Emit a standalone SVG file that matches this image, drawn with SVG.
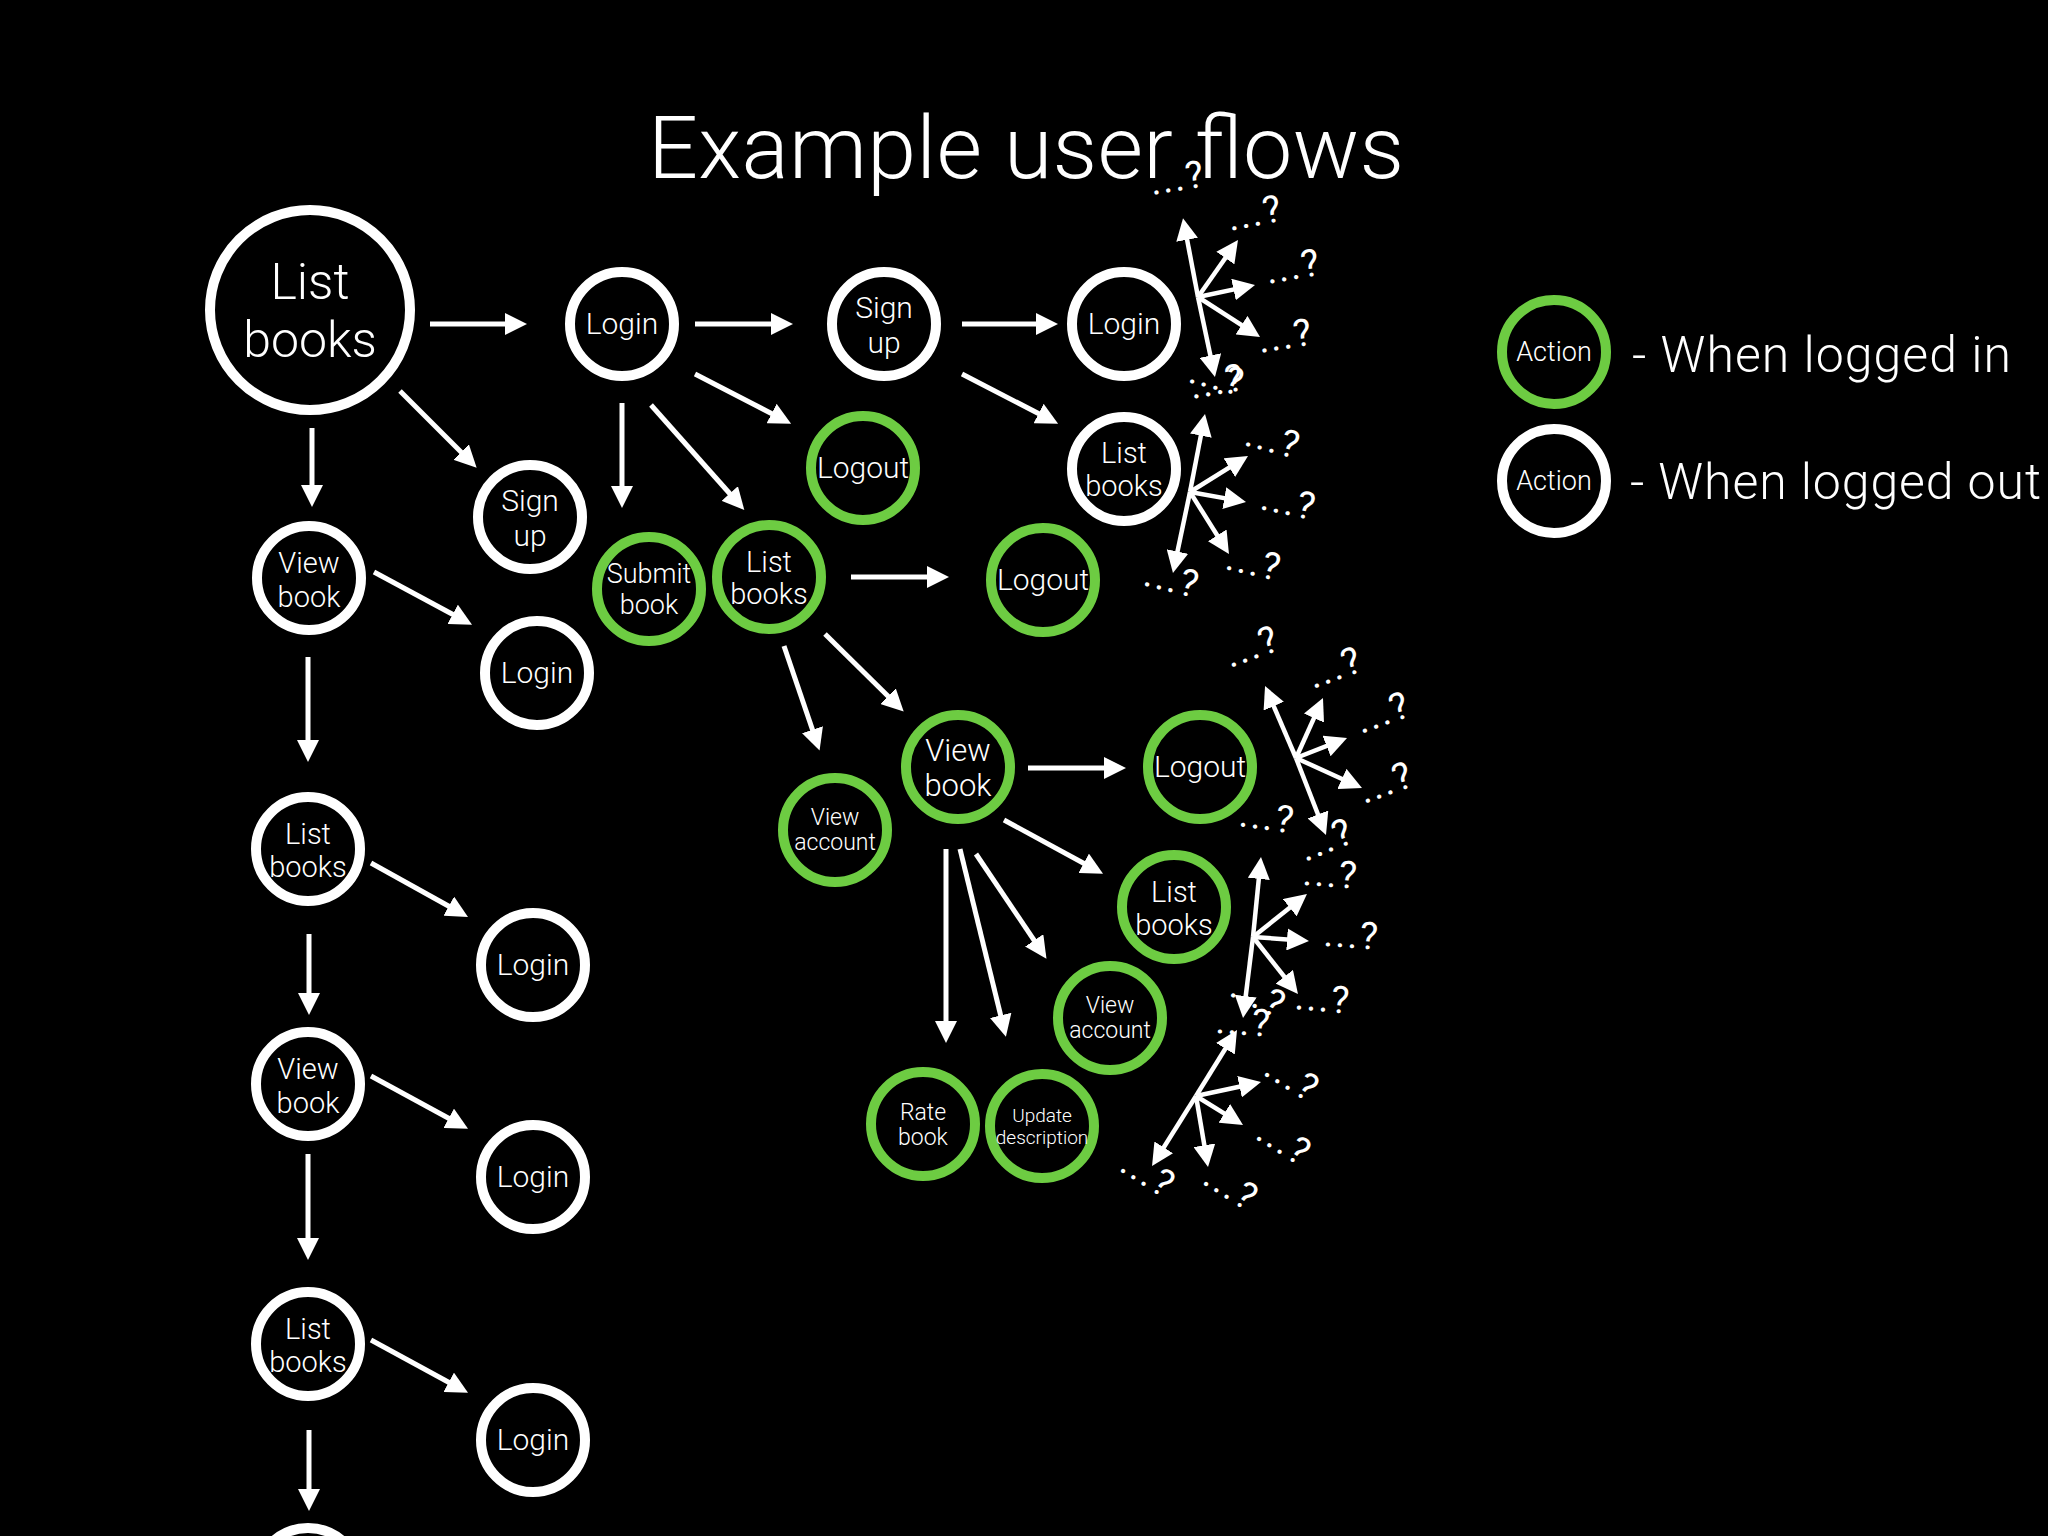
<svg xmlns="http://www.w3.org/2000/svg" width="2048" height="1536" viewBox="0 0 2048 1536">
<style>
text { font-family: Roboto, "Liberation Sans", Arial, sans-serif; font-weight: 300; fill: #fff; }
.node circle { fill: #000; stroke-width: 10; }
.w circle { stroke: #fff; }
.g circle { stroke: #6DCC42; }
.node text { text-anchor: middle; }
.f30 { font-size: 30px; }
.f29 { font-size: 29px; }
.f31 { font-size: 31px; }
.f27 { font-size: 27px; }
.f23 { font-size: 23px; }
.f19 { font-size: 19px; }
.conn line { stroke: #fff; stroke-width: 5; marker-end: url(#ah); }
.conn .c line { stroke-width: 4.5; }
.q text { font-size: 38px; letter-spacing: 2px; font-weight: 400; }
</style>
<defs>
<marker id="ah" markerUnits="userSpaceOnUse" markerWidth="22" markerHeight="22" refX="14" refY="11" orient="auto">
<path d="M0,0 L22,11 L0,22 Z" fill="#fff"/>
</marker>
</defs>
<rect x="0" y="0" width="2048" height="1536" fill="#000"/>
<text x="1026" y="178" font-size="88" text-anchor="middle" textLength="756">Example user flows</text>

<g id="connectors" class="conn">
<line x1="430" y1="324" x2="519" y2="324"/>
<line x1="695" y1="324" x2="785" y2="324"/>
<line x1="962" y1="324" x2="1050" y2="324"/>
<line x1="695" y1="374" x2="784" y2="420"/>
<line x1="962" y1="374" x2="1051" y2="420"/>
<line x1="400" y1="391" x2="471" y2="462"/>
<line x1="312" y1="428" x2="312" y2="499"/>
<line x1="622" y1="403" x2="622" y2="500"/>
<line x1="651" y1="405" x2="739" y2="504"/>
<line x1="374" y1="572" x2="465" y2="621"/>
<line x1="308" y1="657" x2="308" y2="754"/>
<line x1="851" y1="577" x2="941" y2="577"/>
<line x1="784" y1="646" x2="817" y2="743"/>
<line x1="825" y1="634" x2="898" y2="706"/>
<line x1="1028" y1="768" x2="1118" y2="768"/>
<line x1="1004" y1="820" x2="1096" y2="870"/>
<line x1="946" y1="849" x2="946" y2="1035"/>
<line x1="960" y1="849" x2="1004" y2="1029"/>
<line x1="976" y1="854" x2="1042" y2="952"/>
<line x1="371" y1="863" x2="461" y2="913"/>
<line x1="309" y1="934" x2="309" y2="1007"/>
<line x1="371" y1="1076" x2="461" y2="1125"/>
<line x1="308" y1="1154" x2="308" y2="1252"/>
<line x1="371" y1="1340" x2="461" y2="1389"/>
<line x1="309" y1="1430" x2="309" y2="1503"/>
<g class="c">
<line x1="1198" y1="297" x2="1184.5" y2="226"/>
<line x1="1198" y1="297" x2="1213.3" y2="369.2"/>
<line x1="1198" y1="297" x2="1233.4" y2="246.6"/>
<line x1="1198" y1="297" x2="1247.2" y2="286.6"/>
<line x1="1198" y1="297" x2="1253.3" y2="332.7"/>
<line x1="1190" y1="492" x2="1203.5" y2="421.9"/>
<line x1="1190" y1="492" x2="1174.6" y2="565.2"/>
<line x1="1190" y1="492" x2="1241.2" y2="460.2"/>
<line x1="1190" y1="492" x2="1238.1" y2="500.6"/>
<line x1="1190" y1="492" x2="1224.7" y2="547.2"/>
<line x1="1296" y1="758" x2="1268.2" y2="693.3"/>
<line x1="1296" y1="758" x2="1319.7" y2="705.3"/>
<line x1="1296" y1="758" x2="1339.6" y2="740.9"/>
<line x1="1296" y1="758" x2="1354.7" y2="784.7"/>
<line x1="1296" y1="758" x2="1323.1" y2="827.5"/>
<line x1="1253" y1="937" x2="1260.2" y2="865"/>
<line x1="1253" y1="937" x2="1244" y2="1010"/>
<line x1="1253" y1="937" x2="1300.7" y2="899"/>
<line x1="1253" y1="937" x2="1301" y2="940.4"/>
<line x1="1253" y1="937" x2="1293" y2="987.7"/>
<line x1="1196" y1="1096" x2="1232.8" y2="1036.8"/>
<line x1="1196" y1="1096" x2="1253.2" y2="1083.7"/>
<line x1="1196" y1="1096" x2="1236.2" y2="1120.8"/>
<line x1="1196" y1="1096" x2="1206.7" y2="1159.1"/>
<line x1="1196" y1="1096" x2="1156.3" y2="1159.2"/>
</g>
</g>

<g id="question-labels" class="q">
<text x="1152" y="195" transform="rotate(-9 1152 195)">...?</text>
<text x="1230" y="231" transform="rotate(-11 1230 231)">...?</text>
<text x="1268" y="284" transform="rotate(-10 1268 284)">...?</text>
<text x="1260" y="353" transform="rotate(-9 1260 353)">...?</text>
<text x="1187" y="382" transform="rotate(15 1187 382)">...?</text>
<text x="1192" y="399" transform="rotate(-10 1192 399)">...?</text>
<text x="1243" y="445" transform="rotate(15 1243 445)">...?</text>
<text x="1259" y="509" transform="rotate(12 1259 509)">...?</text>
<text x="1224" y="569" transform="rotate(13 1224 569)">...?</text>
<text x="1142" y="585" transform="rotate(14 1142 585)">...?</text>
<text x="1230" y="668" transform="rotate(-20 1230 668)">...?</text>
<text x="1313" y="689" transform="rotate(-20 1313 689)">...?</text>
<text x="1361" y="734" transform="rotate(-20 1361 734)">...?</text>
<text x="1364" y="804" transform="rotate(-20 1364 804)">...?</text>
<text x="1238" y="826" transform="rotate(8 1238 826)">...?</text>
<text x="1305" y="862" transform="rotate(-22 1305 862)">...?</text>
<text x="1302" y="885" transform="rotate(4 1302 885)">...?</text>
<text x="1323" y="946" transform="rotate(4 1323 946)">...?</text>
<text x="1294" y="1009" transform="rotate(5 1294 1009)">...?</text>
<text x="1228" y="995" transform="rotate(26 1228 995)">...?</text>
<text x="1215" y="1033" transform="rotate(4 1215 1033)">...?</text>
<text x="1262" y="1074" transform="rotate(32 1262 1074)">...?</text>
<text x="1254" y="1138" transform="rotate(32 1254 1138)">...?</text>
<text x="1118" y="1170" transform="rotate(32 1118 1170)">...?</text>
<text x="1201" y="1183" transform="rotate(32 1201 1183)">...?</text>
</g>

<g id="n-listbooks-main" class="node w">
<circle cx="310" cy="310" r="100" stroke-width="12"/>
<text x="310" y="299" font-size="50">List</text>
<text x="310" y="357" font-size="50">books</text>
</g>
<g id="n-login-1" class="node w"><circle cx="622" cy="324" r="52"/><text class="f30" x="622" y="334">Login</text></g>
<g id="n-signup-1" class="node w"><circle cx="884" cy="324" r="52"/><text class="f30" x="884" y="318">Sign</text><text class="f30" x="884" y="353">up</text></g>
<g id="n-login-2" class="node w"><circle cx="1124" cy="324" r="52"/><text class="f30" x="1124" y="334">Login</text></g>
<g id="n-logout-1" class="node g"><circle cx="863" cy="468" r="52"/><text class="f30" x="863" y="478">Logout</text></g>
<g id="n-listbooks-2" class="node w"><circle cx="1124" cy="469" r="52"/><text class="f29" x="1124" y="463">List</text><text class="f29" x="1124" y="496">books</text></g>
<g id="n-signup-2" class="node w"><circle cx="530" cy="517" r="52"/><text class="f30" x="530" y="511">Sign</text><text class="f30" x="530" y="546">up</text></g>
<g id="n-viewbook-1" class="node w"><circle cx="309" cy="578" r="52"/><text class="f29" x="309" y="573">View</text><text class="f29" x="309" y="607">book</text></g>
<g id="n-login-3" class="node w"><circle cx="537" cy="673" r="52"/><text class="f30" x="537" y="683">Login</text></g>
<g id="n-submitbook" class="node g"><circle cx="649" cy="589" r="52"/><text class="f27" x="649" y="583">Submit</text><text class="f27" x="649" y="614">book</text></g>
<g id="n-listbooks-3" class="node g"><circle cx="769" cy="577" r="52"/><text class="f29" x="769" y="572">List</text><text class="f29" x="769" y="604">books</text></g>
<g id="n-logout-2" class="node g"><circle cx="1043" cy="580" r="52"/><text class="f30" x="1043" y="590">Logout</text></g>
<g id="n-viewbook-2" class="node g"><circle cx="958" cy="767" r="52"/><text class="f31" x="958" y="761">View</text><text class="f31" x="958" y="796">book</text></g>
<g id="n-logout-3" class="node g"><circle cx="1200" cy="767" r="52"/><text class="f30" x="1200" y="777">Logout</text></g>
<g id="n-viewaccount-1" class="node g"><circle cx="835" cy="830" r="52"/><text class="f23" x="835" y="825">View</text><text class="f23" x="835" y="850">account</text></g>
<g id="n-listbooks-4" class="node g"><circle cx="1174" cy="907" r="52"/><text class="f29" x="1174" y="902">List</text><text class="f29" x="1174" y="935">books</text></g>
<g id="n-viewaccount-2" class="node g"><circle cx="1110" cy="1018" r="52"/><text class="f23" x="1110" y="1013">View</text><text class="f23" x="1110" y="1038">account</text></g>
<g id="n-ratebook" class="node g"><circle cx="923" cy="1124" r="52"/><text class="f23" x="923" y="1120">Rate</text><text class="f23" x="923" y="1145">book</text></g>
<g id="n-updatedesc" class="node g"><circle cx="1042" cy="1126" r="52"/><text class="f19" x="1042" y="1122">Update</text><text class="f19" x="1042" y="1144">description</text></g>
<g id="n-listbooks-5" class="node w"><circle cx="308" cy="849" r="52"/><text class="f29" x="308" y="844">List</text><text class="f29" x="308" y="877">books</text></g>
<g id="n-login-4" class="node w"><circle cx="533" cy="965" r="52"/><text class="f30" x="533" y="975">Login</text></g>
<g id="n-viewbook-3" class="node w"><circle cx="308" cy="1084" r="52"/><text class="f29" x="308" y="1079">View</text><text class="f29" x="308" y="1113">book</text></g>
<g id="n-login-5" class="node w"><circle cx="533" cy="1177" r="52"/><text class="f30" x="533" y="1187">Login</text></g>
<g id="n-listbooks-6" class="node w"><circle cx="308" cy="1344" r="52"/><text class="f29" x="308" y="1339">List</text><text class="f29" x="308" y="1372">books</text></g>
<g id="n-login-6" class="node w"><circle cx="533" cy="1440" r="52"/><text class="f30" x="533" y="1450">Login</text></g>
<g id="n-partial" class="node w"><circle cx="308" cy="1580" r="52"/></g>

<g id="legend-in" class="node g"><circle cx="1554" cy="352" r="52"/><text class="f27" x="1554" y="361">Action</text></g>
<g id="legend-out" class="node w"><circle cx="1554" cy="481" r="52"/><text class="f27" x="1554" y="490">Action</text></g>
<text x="1632" y="372" font-size="50" textLength="379">- When logged in</text>
<text x="1630" y="499" font-size="50" textLength="411">- When logged out</text>
</svg>
